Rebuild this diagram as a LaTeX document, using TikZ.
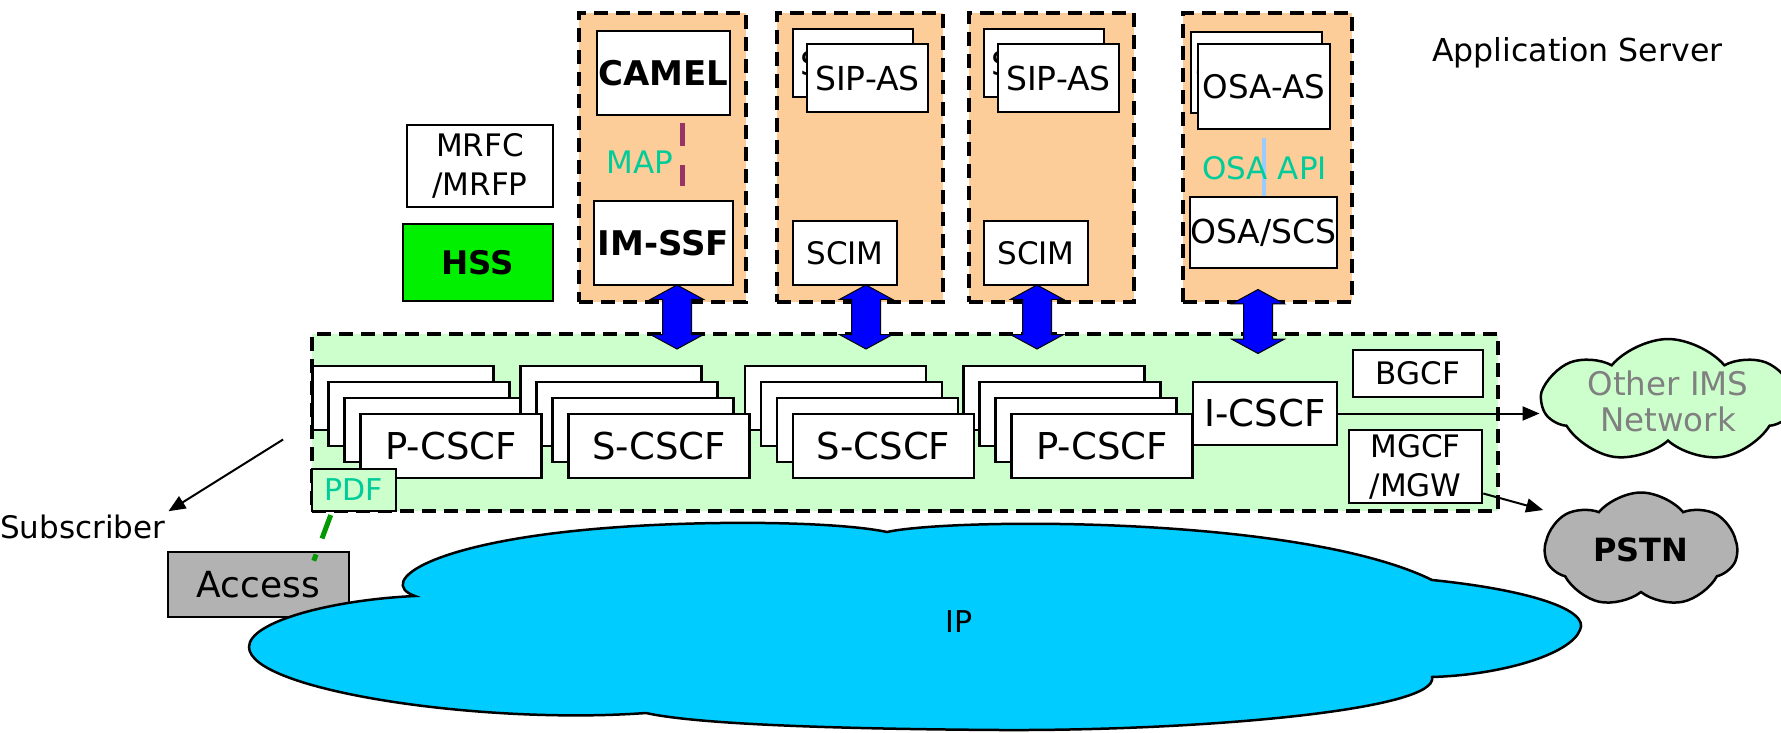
\documentclass[tikz,border=0pt]{standalone}
\usepackage{fontspec}
\setmainfont{DejaVu Sans}
\usetikzlibrary{arrows.meta,shapes.arrows,shapes.symbols}
\definecolor{asfill}{RGB}{252,204,153}
\definecolor{imsfill}{RGB}{204,255,204}
\definecolor{hssfill}{RGB}{0,240,0}
\definecolor{greyfill}{RGB}{178,178,178}
\definecolor{ipfill}{RGB}{0,204,255}
\definecolor{labelgreen}{RGB}{0,204,153}
\definecolor{mapcol}{RGB}{153,51,102}
\definecolor{apicol}{RGB}{153,204,255}
\definecolor{pdfcol}{RGB}{0,153,0}
\definecolor{cloudtext}{RGB}{128,128,128}
\begin{document}
\begin{tikzpicture}[x=1pt, y=-1pt, >={Triangle[length=17pt,width=14pt]},
  lbl/.style={inner sep=0pt, font=\fontsize{31}{39}\selectfont, align=center},
  asbox/.style={draw, fill=asfill, line width=3.5pt, dash pattern=on 14pt off 8pt},
  plainbox/.style={lbl, draw, fill=white, line width=2.5pt},
  cscfbox/.style={plainbox, minimum width=181pt, minimum height=64pt, font=\fontsize{37}{44}\selectfont},
  sipbox/.style={plainbox, minimum width=120pt, minimum height=68pt, font=\fontsize{33}{40}\selectfont},
  boldtext/.style={font=\fontsize{34}{40}\selectfont\bfseries},
  linkarrow/.style={double arrow, draw, fill=blue, line width=1pt, inner sep=14pt, minimum height=64pt,
    double arrow head extend=12pt, double arrow tip angle=123, rotate=90},
  netcloud/.style={cloud, draw, line width=2.5pt, cloud puffs=7, cloud puff arc=100, cloud ignores aspect, lbl},
  thinarrow/.style={->, line width=2pt},
  ]
\useasboundingbox (0,0) rectangle (1781,733);

\node[lbl, anchor=base west, font=\fontsize{31.6}{39}\selectfont] (title) at (1432,62) {Application Server};

% application servers
\node[asbox, minimum width=167pt, minimum height=289pt] (as1) at (662.5,157.5) {};
\node[asbox, minimum width=166pt, minimum height=289pt] (as2) at (860,157.5) {};
\node[asbox, minimum width=165pt, minimum height=289pt] (as3) at (1051.5,157.5) {};
\node[asbox, minimum width=169pt, minimum height=289pt] (as4) at (1267.5,157.5) {};

\node[plainbox, boldtext, minimum width=133pt, minimum height=84pt] (camel) at (663.5,73) {CAMEL};
\node[plainbox, boldtext, minimum width=139pt, minimum height=84pt] (imssf) at (663.5,243) {IM-SSF};
\draw[mapcol, line width=5pt, dash pattern=on 23pt off 19pt, shorten <=7pt, shorten >=14pt]
  ([xshift=18.5pt]camel.south) -- ([xshift=18.5pt]imssf.north);
\node[lbl, text=labelgreen] (map) at (640,162) {MAP};

\foreach \n/\x in {2/845,3/1036}
{
    \node[sipbox] at (\x+8,63) {SIP-AS};
    \node[sipbox, minimum width=121pt] (sip\n) at (\x+22.5,78) {SIP-AS};
    \node[plainbox, minimum width=104pt, minimum height=64pt] (scim\n) at (\x,253) {SCIM};
}

\node[sipbox, minimum width=131pt, minimum height=81pt, font=\fontsize{32.5}{40}\selectfont] at (1256.5,72.5) {OSA-AS};
\node[sipbox, minimum width=132pt, minimum height=85pt, font=\fontsize{32.5}{40}\selectfont] (osa) at (1264,86.5) {OSA-AS};
\node[sipbox, minimum width=147pt, minimum height=71pt] (osascs) at (1263.5,232.5) {OSA/SCS};
\draw[apicol, line width=4pt, shorten <=8pt] (osa.south) -- (osa.south |- osascs.north);
\node[lbl, text=labelgreen] (osaapi) at (1264.5,168) {OSA API};

\node[plainbox, minimum width=146pt, minimum height=82pt] (mrfc) at (480,166) {MRFC\\/MRFP};
\node[plainbox, boldtext, fill=hssfill, font=\fontsize{32.5}{40}\selectfont\bfseries,
  minimum width=150pt, minimum height=77pt] (hss) at (478,262.5) {HSS};

% IMS core
\node[asbox, fill=imsfill, minimum width=1186pt, minimum height=177pt] (ims) at (905,422.5) {};
\foreach \x in {451,659,883.5,1102}
    \foreach \k in {48,32,16}
        \node[cscfbox] at (\x-\k,446-\k) {};
\node[cscfbox] (pcscf1) at (451,446) {P-CSCF};
\node[cscfbox] (scscf1) at (659,446) {S-CSCF};
\node[cscfbox] (scscf2) at (883.5,446) {S-CSCF};
\node[cscfbox] (pcscf2) at (1102,446) {P-CSCF};
\node[cscfbox, minimum width=144pt, minimum height=63pt] (icscf) at (1265,413.5) {I-CSCF};
\node[plainbox, minimum width=130pt, minimum height=47pt] (bgcf) at (1418,373.5) {BGCF};
\node[plainbox, minimum width=133pt, minimum height=73pt] (mgcf) at (1415.5,466.5) {MGCF\\/MGW};
\node[plainbox, fill=imsfill, text=labelgreen, font=\fontsize{30}{36}\selectfont,
  minimum width=84pt, minimum height=42pt] (pdf) at (354,490) {PDF};

\node[linkarrow] (link1) at (677,317) {};
\node[linkarrow] (link2) at (866,317) {};
\node[linkarrow] (link3) at (1037,317) {};
\node[linkarrow] (link4) at (1258,321.5) {};

% access side
\node[plainbox, fill=greyfill, minimum width=181pt, minimum height=65pt, font=\fontsize{36}{42}\selectfont] (access) at (258.5,584.5) {Access};
\node[lbl, anchor=base west, inner sep=3pt] (sub) at (-3,538) {Subscriber};
\draw[thinarrow, shorten <=32pt] (ims.west) -- (sub.north east);
\draw[pdfcol, line width=5pt, dash pattern=on 25pt off 17pt, shorten <=3pt]
  ([xshift=21pt]pdf.south west) -- ([xshift=147pt,yshift=-10pt]access.north west);

% IP cloud
\draw[line width=2.5pt, fill=ipfill]
  (249,647) .. controls (249,622) and (330,600) .. (415,596)
  .. controls (375,582) and (430,540) .. (620,527)
  .. controls (720,520) and (840,522) .. (887,532)
  .. controls (950,518) and (1300,515) .. (1432,580)
  .. controls (1530,590) and (1590,610) .. (1580,630)
  .. controls (1570,655) and (1500,675) .. (1432,677)
  .. controls (1440,710) and (1200,731) .. (1000,730)
  .. controls (850,729) and (700,725) .. (646,713)
  .. controls (480,725) and (249,690) .. (249,647) -- cycle;
\node[lbl, font=\fontsize{30}{36}\selectfont] (ip) at (959,622) {IP};

% other networks
\node[netcloud, fill=imsfill, text=cloudtext, font=\fontsize{32.5}{36}\selectfont,
  minimum width=250pt, minimum height=118pt] (other) at (1668,401) {Other IMS\\Network};
\node[netcloud, fill=greyfill, font=\fontsize{32}{38}\selectfont\bfseries,
  minimum width=192pt, minimum height=115pt] (pstn) at (1641,550) {PSTN};
\draw[thinarrow] (icscf.east) -- (icscf.east -| other.west);
\draw[thinarrow] ([yshift=-27pt]mgcf.east) -- ([yshift=40pt]pstn.west);

\end{tikzpicture}
\end{document}
